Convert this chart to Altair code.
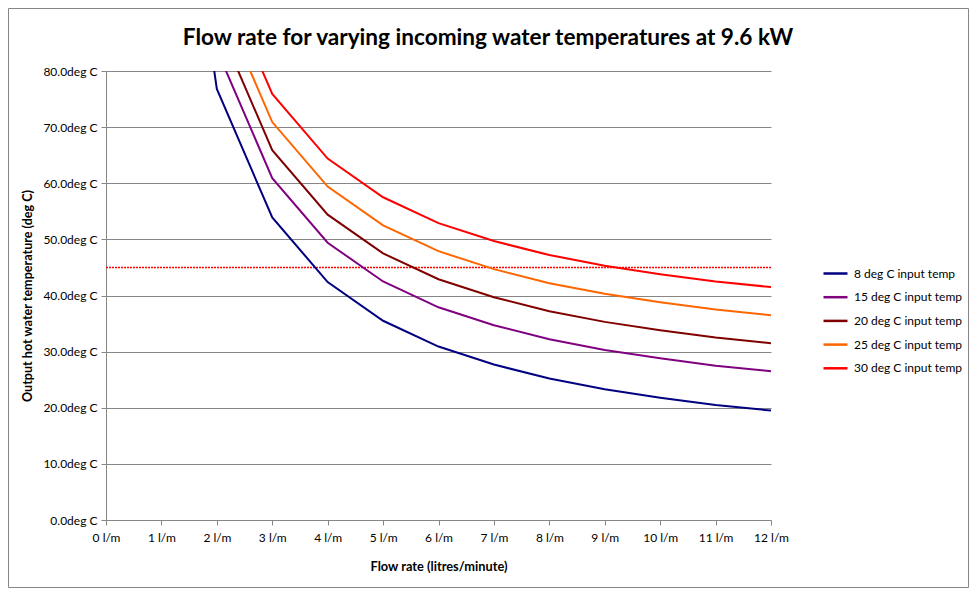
import altair as alt
import pandas as pd

# ---- data ----
flow = [1, 2, 3, 4, 5, 6, 7, 8, 9, 10, 11, 12]
series_names = [
    "8 deg C input temp",
    "15 deg C input temp",
    "20 deg C input temp",
    "25 deg C input temp",
    "30 deg C input temp",
]
t8 = [145.6, 76.8, 53.9, 42.4, 35.5, 30.9, 27.7, 25.2, 23.3, 21.8, 20.5, 19.5]
t15 = [152.6, 83.8, 60.9, 49.4, 42.5, 37.9, 34.7, 32.2, 30.3, 28.8, 27.5, 26.5]
t20 = [157.6, 88.8, 65.9, 54.4, 47.5, 42.9, 39.7, 37.2, 35.3, 33.8, 32.5, 31.5]
t25 = [162.6, 93.8, 70.9, 59.4, 52.5, 47.9, 44.7, 42.2, 40.3, 38.8, 37.5, 36.5]
t30 = [167.6, 98.8, 75.9, 64.4, 57.5, 52.9, 49.7, 47.2, 45.3, 43.8, 42.5, 41.5]
series_colors = ["#000080", "#800080", "#800000", "#FF6600", "#FF0000"]
ref_temp = [45.0]
x_ticks = [0, 1, 2, 3, 4, 5, 6, 7, 8, 9, 10, 11, 12]
y_ticks = [0, 10, 20, 30, 40, 50, 60, 70, 80]
chart_title = "Flow rate for varying incoming water temperatures at 9.6 kW"

rows = []
for name, vals in zip(series_names, [t8, t15, t20, t25, t30]):
    for f, v in zip(flow, vals):
        rows.append({"flow": f, "temp": v, "series": name})
df = pd.DataFrame(rows)

FONT = "Lato"
GRID = "#868686"

x_enc = alt.X(
    "flow:Q",
    scale=alt.Scale(domain=[0, 12], nice=False),
    axis=alt.Axis(
        values=x_ticks,
        labelExpr="datum.value + ' l/m'",
        title="Flow rate (litres/minute)",
        grid=False,
        domainColor=GRID,
        tickColor=GRID,
        tickSize=5,
        labelPadding=7,
        titlePadding=17,
        labelFont=FONT,
        labelFontSize=12,
        labelColor="#000000",
        titleFont=FONT,
        titleFontSize=12.8,
        titleFontWeight="bold",
        titleColor="#000000",
        labelFlush=False,
    ),
)
y_scale = alt.Scale(domain=[0, 80], nice=False)
y_enc = alt.Y(
    "temp:Q",
    scale=y_scale,
    axis=alt.Axis(
        values=y_ticks,
        labelExpr="format(datum.value, '.1f') + 'deg C'",
        title="Output hot water temperature (deg C)",
        grid=True,
        gridColor=GRID,
        gridWidth=1,
        domainColor=GRID,
        tickColor=GRID,
        tickSize=5,
        labelPadding=4,
        titlePadding=8,
        labelFont=FONT,
        labelFontSize=12,
        labelColor="#000000",
        titleFont=FONT,
        titleFontSize=12.6,
        titleFontWeight="bold",
        titleColor="#000000",
        labelFlush=False,
    ),
)

lines = alt.Chart(df).mark_line(clip=True, strokeWidth=2).encode(
    x=x_enc,
    y=y_enc,
    color=alt.Color(
        "series:N",
        scale=alt.Scale(domain=series_names, range=series_colors),
        sort=series_names,
        legend=alt.Legend(
            title=None,
            orient="none",
            legendX=716,
            legendY=189,
            symbolType="stroke",
            symbolSize=576,
            symbolStrokeWidth=2.5,
            labelFont=FONT,
            labelFontSize=12,
            labelColor="#000000",
            labelOffset=5,
            rowPadding=3.7,
            padding=0,
        ),
    ),
)

ref = alt.Chart(pd.DataFrame({"temp": ref_temp})).mark_rule(
    stroke="#FF0000", color="#FF0000", strokeWidth=1.4, strokeDash=[2, 1], opacity=1
).encode(y=alt.Y("temp:Q", scale=y_scale))

title_txt = alt.Chart(alt.Data(values=[{"t": chart_title}])).mark_text(
    font=FONT, fontSize=22.6, fontWeight="bold", color="#000000",
    align="center", baseline="alphabetic",
).encode(text="t:N", x=alt.value(382), y=alt.value(-26))

frame = alt.Chart(alt.Data(values=[{"a": 1}])).mark_rect(
    fill=None, stroke="#868686", strokeWidth=1
).encode(
    x=alt.value(-97.5), x2=alt.value(862.5),
    y=alt.value(-62.5), y2=alt.value(516.5),
)

chart = alt.layer(ref, lines, title_txt, frame).properties(
    width=665,
    height=449,
    autosize=alt.AutoSizeParams(type="none"),
    padding={"left": 98, "top": 63, "right": 198, "bottom": 68},
    background="#FFFFFF",
).configure_view(strokeWidth=0)

chart.save("out.html", embed_options={"renderer": "svg", "actions": False})
